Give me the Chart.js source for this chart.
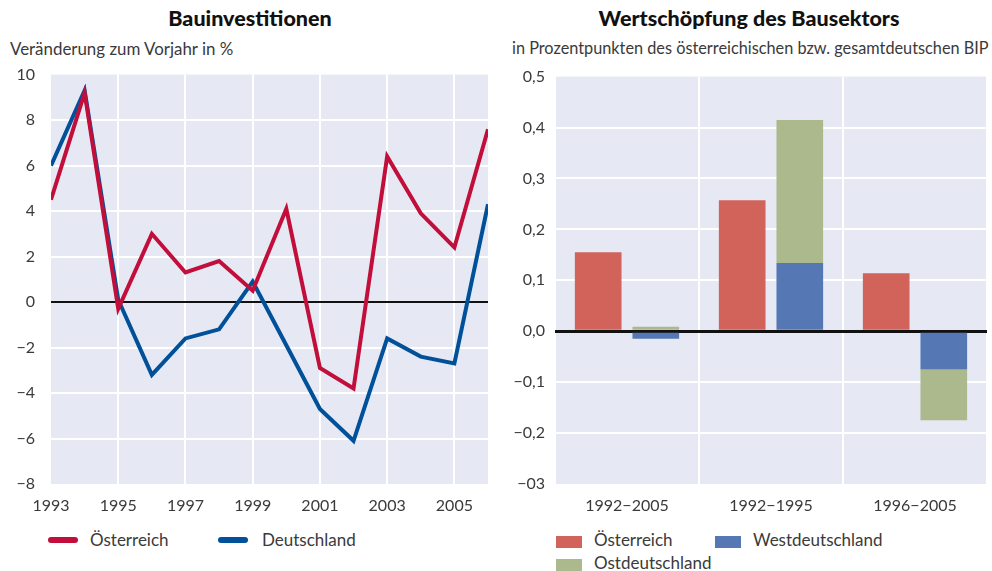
<!DOCTYPE html>
<html>
<head>
<meta charset="utf-8">
<script src="https://cdn.jsdelivr.net/npm/chart.js@4.4.1/dist/chart.umd.min.js"></script>
<style>
  body { margin: 0; width: 992px; height: 571px; background: #fff; font-family: Lato, "Open Sans", sans-serif; color: #3a3a3a; position: relative; overflow: hidden; }
  .title { position: absolute; top: 5px; font-weight: 900; font-size: 21.5px; color: #111; text-align: center; }
  .sub { position: absolute; top: 38px; color: #3a3a3a; white-space: nowrap; }
  .box { position: absolute; }
  .leg { position: absolute; font-size: 17px; color: #3a3a3a; white-space: nowrap; }
  .line { position: absolute; height: 6px; border-radius: 3px; }
  .sq { position: absolute; width: 26px; height: 12px; }
</style>
</head>
<body>
<div class="title" style="left:0;width:500px;">Bauinvestitionen</div>
<div class="title" style="left:500px;width:498px;">Wertschöpfung des Bausektors</div>
<div class="sub" style="left:10px;font-size:16.9px;">Veränderung zum Vorjahr in %</div>
<div class="sub" style="left:512px;font-size:16.3px;">in Prozentpunkten des österreichischen bzw. gesamtdeutschen BIP</div>

<div class="box" style="left:0;top:49px;width:495px;height:475px;"><canvas id="left"></canvas></div>
<div class="box" style="left:505px;top:57px;width:487px;height:467px;"><canvas id="right"></canvas></div>

<!-- legends -->
<div class="line" style="left:48px;top:537px;width:30px;background:#c20e3a;"></div>
<div class="leg" style="left:90px;top:529px;">Österreich</div>
<div class="line" style="left:218px;top:537px;width:30px;background:#005199;"></div>
<div class="leg" style="left:262px;top:529px;">Deutschland</div>

<div class="sq" style="left:556px;top:536px;background:#d1635b;"></div>
<div class="leg" style="left:594px;top:529px;">Österreich</div>
<div class="sq" style="left:715px;top:536px;background:#5578b4;"></div>
<div class="leg" style="left:753px;top:529px;">Westdeutschland</div>
<div class="sq" style="left:556px;top:559px;background:#abb98c;"></div>
<div class="leg" style="left:594px;top:552px;">Ostdeutschland</div>

<script>
// left chart data
const years = [1993, 1994, 1995, 1996, 1997, 1998, 1999, 2000, 2001, 2002, 2003, 2004, 2005, 2006];
const oesterreich = [4.5, 9.2, -0.3, 3.0, 1.3, 1.8, 0.5, 4.1, -2.9, -3.8, 6.4, 3.9, 2.4, 7.6];
const deutschland = [6.0, 9.3, 0.1, -3.2, -1.6, -1.2, 0.9, -1.9, -4.7, -6.1, -1.6, -2.4, -2.7, 4.3];
const yearTicks = [1993, 1995, 1997, 1999, 2001, 2003, 2005];
const leftTickLabels = {10: '10', 8: '8', 6: '6', 4: '4', 2: '2', 0: '0', '-2': '\u22122', '-4': '\u22124', '-6': '\u22126', '-8': '\u22128'};

// right chart data
const periods = ['1992\u22122005', '1992\u22121995', '1996\u22122005'];
const oeWert = [0.155, 0.257, 0.114];
const westWert = [-0.015, 0.134, -0.075];
const ostWert = [0.009, 0.281, -0.100];
const rightTickLabels = {5: '0,5', 4: '0,4', 3: '0,3', 2: '0,2', 1: '0,1', 0: '0,0', '-1': '\u22120,1', '-2': '\u22120,2', '-3': '\u221203'};

const tickFont = { family: 'Lato', size: 16 };
const tickColor = '#3a3a3a';

const plotBg = {
    id: 'plotBg',
    beforeDraw(chart) {
        const a = chart.chartArea;
        const ctx = chart.ctx;
        ctx.save();
        ctx.fillStyle = '#e6e9f3';
        ctx.fillRect(a.left, a.top, a.right - a.left, a.bottom - a.top);
        ctx.restore();
    }
};

function pts(vals) {
    return vals.map((v, i) => ({ x: years[i], y: v }));
}

new Chart(document.getElementById('left').getContext('2d'), {
    type: 'line',
    data: {
        datasets: [{
            label: 'Österreich',
            data: pts(oesterreich),
            borderColor: '#c20e3a',
            borderWidth: 4,
            pointRadius: 0,
            tension: 0
        }, {
            label: 'Deutschland',
            data: pts(deutschland),
            borderColor: '#005199',
            borderWidth: 4,
            pointRadius: 0,
            tension: 0
        }]
    },
    options: {
        responsive: true,
        maintainAspectRatio: false,
        animation: false,
        layout: { padding: { top: 17, right: 7, bottom: 0, left: 0 } },
        plugins: { legend: { display: false }, tooltip: { enabled: false } },
        scales: {
            x: {
                type: 'linear',
                min: 1993,
                max: 2006,
                afterBuildTicks: (s) => { s.ticks = yearTicks.map(v => ({ value: v })); },
                afterFit: (s) => { s.height = 40; },
                ticks: { font: tickFont, color: tickColor, padding: 12, callback: (v) => String(v), maxRotation: 0 },
                grid: {
                    color: (c) => c.tick && c.tick.value === 1993 ? 'rgba(0,0,0,0)' : '#ffffff',
                    lineWidth: 2,
                    drawTicks: false
                },
                border: { display: false }
            },
            y: {
                min: -8,
                max: 10,
                afterBuildTicks: (s) => { s.ticks = [10, 8, 6, 4, 2, 0, -2, -4, -6, -8].map(v => ({ value: v })); },
                afterFit: (s) => { s.width = 51; },
                ticks: { font: tickFont, color: tickColor, padding: 16, callback: (v) => leftTickLabels[v] },
                grid: {
                    color: (c) => c.tick && c.tick.value === 0 ? '#111111' : (c.tick && (c.tick.value === 10 || c.tick.value === -8) ? 'rgba(0,0,0,0)' : '#ffffff'),
                    lineWidth: 2,
                    drawTicks: false
                },
                border: { display: false }
            }
        }
    },
    plugins: [plotBg]
});

new Chart(document.getElementById('right').getContext('2d'), {
    type: 'bar',
    data: {
        labels: periods,
        datasets: [{
            label: 'Österreich',
            data: oeWert,
            backgroundColor: '#d1635b',
            stack: 'oe'
        }, {
            label: 'Westdeutschland',
            data: westWert,
            backgroundColor: '#5578b4',
            stack: 'de'
        }, {
            label: 'Ostdeutschland',
            data: ostWert,
            backgroundColor: '#abb98c',
            stack: 'de'
        }]
    },
    options: {
        responsive: true,
        maintainAspectRatio: false,
        animation: false,
        layout: { padding: { top: 17, right: 5, bottom: 0, left: 0 } },
        datasets: { bar: { categoryPercentage: 0.8, barPercentage: 0.81 } },
        plugins: { legend: { display: false }, tooltip: { enabled: false } },
        scales: {
            x: {
                stacked: true,
                afterFit: (s) => { s.height = 40; },
                ticks: { font: tickFont, color: tickColor, padding: 12 },
                grid: { color: '#ffffff', lineWidth: 2, offset: true, drawTicks: false },
                border: { display: false }
            },
            y: {
                stacked: true,
                min: -0.3,
                max: 0.5,
                afterBuildTicks: (s) => { s.ticks = [0.5, 0.4, 0.3, 0.2, 0.1, 0, -0.1, -0.2, -0.3].map(v => ({ value: v })); },
                afterFit: (s) => { s.width = 50; },
                ticks: { font: tickFont, color: tickColor, padding: 10, callback: (v) => rightTickLabels[Math.round(v * 10)] },
                grid: {
                    color: (c) => {
                        const k = c.tick ? Math.round(c.tick.value * 10) : 99;
                        if (k === 0) return '#111111';
                        if (k === 5 || k === -3) return 'rgba(0,0,0,0)';
                        return '#ffffff';
                    },
                    lineWidth: (c) => (c.tick && Math.round(c.tick.value * 10) === 0) ? 3 : 2,
                    drawTicks: false
                },
                border: { display: false }
            }
        }
    },
    plugins: [plotBg]
});
</script>
</body>
</html>
